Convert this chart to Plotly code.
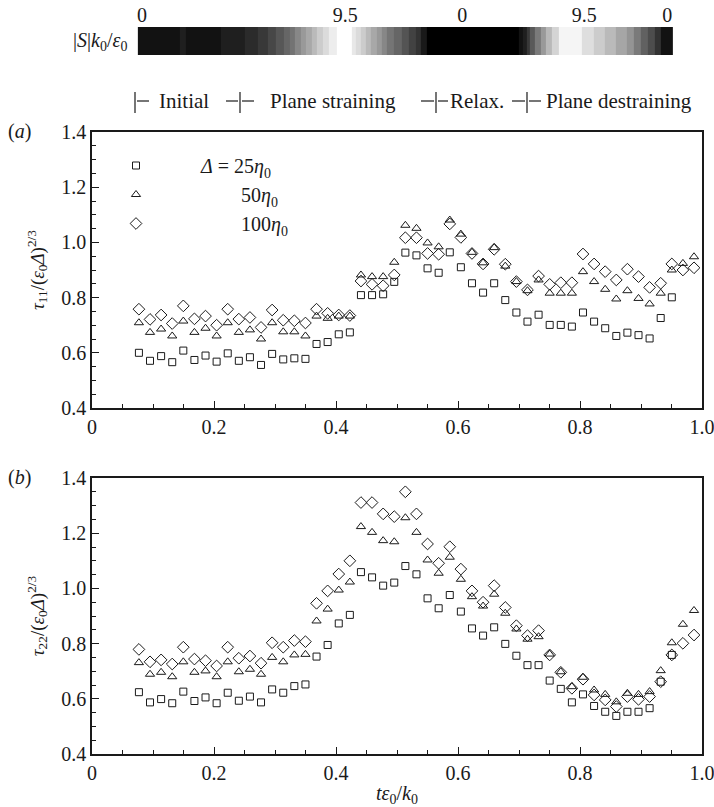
import plotly.graph_objects as go

# ---------------- data ----------------
# non-dimensional time  t*eps0/k0
t = [0.0769, 0.0951, 0.1133, 0.1315, 0.1497, 0.1679, 0.1861, 0.2043, 0.2225, 0.2407,
     0.2589, 0.2771, 0.2953, 0.3135, 0.3317, 0.3499, 0.3681, 0.3863, 0.4045, 0.4227,
     0.4409, 0.4591, 0.4773, 0.4955, 0.5137, 0.5319, 0.5501, 0.5683, 0.5865, 0.6047,
     0.6229, 0.6411, 0.6593, 0.6775, 0.6957, 0.7139, 0.7321, 0.7503, 0.7685, 0.7867,
     0.8049, 0.8231, 0.8413, 0.8595, 0.8777, 0.8959, 0.9141, 0.9323, 0.9505, 0.9687,
     0.9869]
t_25 = t[:49]  # the 25 eta_0 run stops earlier

# panel (a): tau_11 / (eps0 Delta)^(2/3)
tau11_25 = [0.600, 0.571, 0.588, 0.566, 0.608, 0.574, 0.590, 0.568, 0.598, 0.571,
            0.584, 0.556, 0.596, 0.576, 0.580, 0.578, 0.632, 0.639, 0.667, 0.674,
            0.809, 0.809, 0.812, 0.857, 0.963, 0.953, 0.906, 0.890, 0.964, 0.910,
            0.852, 0.818, 0.852, 0.791, 0.746, 0.713, 0.738, 0.701, 0.701, 0.695,
            0.746, 0.713, 0.689, 0.661, 0.673, 0.664, 0.652, 0.726, 0.801]
tau11_50 = [0.709, 0.674, 0.686, 0.661, 0.715, 0.674, 0.689, 0.661, 0.709, 0.674,
            0.683, 0.650, 0.709, 0.676, 0.676, 0.661, 0.733, 0.725, 0.733, 0.733,
            0.882, 0.876, 0.876, 0.928, 1.062, 1.051, 0.998, 0.984, 1.081, 1.030,
            0.964, 0.926, 0.981, 0.914, 0.858, 0.825, 0.864, 0.816, 0.816, 0.816,
            0.894, 0.858, 0.830, 0.795, 0.825, 0.797, 0.777, 0.816, 0.900, 0.924,
            0.948]
tau11_100 = [0.758, 0.721, 0.737, 0.706, 0.770, 0.723, 0.733, 0.700, 0.758, 0.722,
             0.728, 0.692, 0.755, 0.718, 0.716, 0.708, 0.758, 0.743, 0.737, 0.735,
             0.860, 0.848, 0.843, 0.882, 1.017, 1.017, 0.960, 0.957, 1.067, 1.018,
             0.960, 0.922, 0.975, 0.921, 0.858, 0.828, 0.878, 0.848, 0.854, 0.854,
             0.958, 0.922, 0.894, 0.864, 0.903, 0.876, 0.837, 0.852, 0.922, 0.900,
             0.908]

# panel (b): tau_22 / (eps0 Delta)^(2/3)
tau22_25 = [0.624, 0.587, 0.599, 0.584, 0.626, 0.592, 0.605, 0.584, 0.622, 0.593,
            0.608, 0.587, 0.634, 0.622, 0.646, 0.652, 0.753, 0.795, 0.873, 0.904,
            1.059, 1.040, 1.010, 1.021, 1.081, 1.051, 0.964, 0.928, 0.976, 0.916,
            0.855, 0.829, 0.859, 0.799, 0.756, 0.722, 0.722, 0.666, 0.636, 0.587,
            0.616, 0.574, 0.553, 0.538, 0.553, 0.553, 0.566, 0.662, 0.759]
tau22_50 = [0.731, 0.689, 0.696, 0.680, 0.734, 0.696, 0.701, 0.680, 0.734, 0.698,
            0.707, 0.689, 0.750, 0.734, 0.759, 0.761, 0.882, 0.925, 0.994, 1.023,
            1.224, 1.203, 1.173, 1.169, 1.256, 1.203, 1.103, 1.055, 1.113, 1.033,
            0.970, 0.936, 0.979, 0.910, 0.853, 0.816, 0.825, 0.762, 0.698, 0.644,
            0.678, 0.632, 0.616, 0.589, 0.620, 0.616, 0.626, 0.702, 0.803, 0.870,
            0.920]
tau22_100 = [0.779, 0.734, 0.741, 0.726, 0.787, 0.744, 0.738, 0.719, 0.787, 0.747,
             0.755, 0.729, 0.803, 0.787, 0.811, 0.807, 0.946, 0.991, 1.052, 1.100,
             1.311, 1.311, 1.270, 1.260, 1.350, 1.270, 1.161, 1.091, 1.151, 1.070,
             0.991, 0.950, 1.010, 0.931, 0.865, 0.829, 0.847, 0.759, 0.696, 0.638,
             0.671, 0.614, 0.596, 0.572, 0.608, 0.598, 0.608, 0.662, 0.759, 0.801,
             0.831]

# strain-rate magnitude |S| k0/eps0 shown as a grey strip (bin edges in time)
strain_t_edges = [0.0752, 0.1443, 0.1543, 0.2117, 0.2508, 0.2713, 0.2877, 0.3012, 0.3141,
                  0.3246, 0.3328, 0.3421, 0.3503, 0.3608, 0.3679, 0.3785, 0.3890, 0.4018,
                  0.4264, 0.4323, 0.4400, 0.4487, 0.4576, 0.4663, 0.4751, 0.4838, 0.4956,
                  0.5072, 0.5190, 0.5307, 0.5395, 0.5482, 0.7005, 0.7064, 0.7122, 0.7180,
                  0.7268, 0.7356, 0.7444, 0.7532, 0.7649, 0.8030, 0.8234, 0.8410, 0.8585,
                  0.8761, 0.8879, 0.8995, 0.9113, 0.9230, 0.9318, 0.9523]
strain_mag = [0.67, 1.14, 0.67, 1.14, 1.62, 2.09, 2.66, 3.23, 3.80, 4.28,
              5.04, 5.70, 6.27, 6.94, 7.60, 8.17, 8.84, 9.50, 8.65, 8.17,
              7.60, 6.94, 6.27, 5.70, 5.04, 4.37, 3.80, 3.14, 2.47, 1.90,
              0.95, 0.00, 0.67, 1.14, 2.09, 3.33, 4.56, 5.70, 6.84, 7.89,
              9.12, 8.27, 7.60, 6.94, 6.18, 5.51, 4.56, 3.61, 2.85, 1.90,
              0.67]
strain_tick_vals = [0.082, 0.415, 0.607, 0.807, 0.943]
strain_tick_text = ["0", "9.5", "0", "9.5", "0"]

x_ticks = [0, 0.2, 0.4, 0.6, 0.8, 1.0]
x_tick_text = ["0", "0.2", "0.4", "0.6", "0.8", "1.0"]
y_ticks = [0.4, 0.6, 0.8, 1.0, 1.2, 1.4]
y_tick_text = ["0.4", "0.6", "0.8", "1.0", "1.2", "1.4"]

phase_names = ["Initial", "Plane straining", "Relax.", "Plane destraining"]

# ---------------- figure ----------------
W, H = 714, 807
FONT = "Liberation Serif, Times New Roman, DejaVu Serif, serif"
INK = "#1a1a1a"


def px_x(p):
    return p / W


def px_y(p):
    return 1 - p / H


fig = go.Figure()

series = [
    ("square-open", 7, "\u00a0" * 9 + "<i>\u0394</i> = 25<i>\u03b7</i><sub>0</sub>", "25"),
    ("triangle-up-open", 8, "\u00a0" * 17 + "50<i>\u03b7</i><sub>0</sub>", "50"),
    ("diamond-open", 9, "\u00a0" * 17 + "100<i>\u03b7</i><sub>0</sub>", "100"),
]
panel_a = {"25": (t_25, tau11_25), "50": (t, tau11_50), "100": (t, tau11_100)}
panel_b = {"25": (t_25, tau22_25), "50": (t, tau22_50), "100": (t, tau22_100)}

for sym, size, name, key in series:
    xs, ys = panel_a[key]
    fig.add_trace(go.Scatter(
        x=xs, y=ys, mode="markers", name=name, legendgroup=key,
        marker=dict(symbol=sym, size=size, color=INK, line=dict(width=1, color=INK)),
        xaxis="x", yaxis="y"))
for sym, size, name, key in series:
    xs, ys = panel_b[key]
    fig.add_trace(go.Scatter(
        x=xs, y=ys, mode="markers", name=name, legendgroup=key, showlegend=False,
        marker=dict(symbol=sym, size=size, color=INK, line=dict(width=1, color=INK)),
        xaxis="x2", yaxis="y2"))

# grey strip of strain-rate magnitude
fig.add_trace(go.Heatmap(
    x=strain_t_edges, y=[0, 1], z=[strain_mag],
    colorscale=[[0, "#000000"], [1, "#ffffff"]], zmin=0, zmax=9.5,
    showscale=False, hoverinfo="skip", xaxis="x3", yaxis="y3"))

x_dom = [px_x(92), px_x(702)]
axis_common = dict(
    range=[0, 1], showline=True, linecolor=INK, linewidth=1.5, mirror=True,
    ticks="inside", ticklen=7, tickwidth=1.2, tickcolor=INK,
    showgrid=False, zeroline=False, automargin=False, ticklabeloverflow="allow",
    tickfont=dict(family=FONT, size=20, color=INK),
    minor=dict(ticks="inside", ticklen=4, tickwidth=1, tickcolor=INK,
               tickmode="linear", tick0=0, dtick=0.05, showgrid=False),
)
yaxis_common = dict(axis_common)
yaxis_common["range"] = [0.4, 1.4]
yaxis_common["minor"] = dict(ticks="inside", ticklen=4, tickwidth=1, tickcolor=INK,
                             tickmode="linear", tick0=0.4, dtick=0.05, showgrid=False)

y_title_a = "<i>\u03c4</i><sub>11</sub>/(<i>\u03b5</i><sub>0</sub><i>\u0394</i>)<sup>2/3</sup>"
y_title_b = "<i>\u03c4</i><sub>22</sub>/(<i>\u03b5</i><sub>0</sub><i>\u0394</i>)<sup>2/3</sup>"

fig.update_layout(
    template="none",
    width=W, height=H, margin=dict(l=0, r=0, t=0, b=0, autoexpand=False),
    paper_bgcolor="white", plot_bgcolor="white",
    font=dict(family=FONT, size=19, color=INK),
    showlegend=True,
    legend=dict(x=px_x(116), y=px_y(146), xanchor="left", yanchor="top",
                bgcolor="rgba(0,0,0,0)", font=dict(family=FONT, size=20, color=INK),
                itemwidth=30, tracegroupgap=0),
    xaxis=dict(axis_common, domain=x_dom, anchor="y",
               tickmode="array", tickvals=x_ticks, ticktext=x_tick_text),
    yaxis=dict(yaxis_common, domain=[px_y(408), px_y(132)], anchor="x",
               tickmode="array", tickvals=y_ticks, ticktext=y_tick_text,
               title=dict(text=y_title_a, font=dict(family=FONT, size=19, color=INK))),
    xaxis2=dict(axis_common, domain=x_dom, anchor="y2",
                tickmode="array", tickvals=x_ticks, ticktext=x_tick_text,
                title=dict(text="<i>t\u03b5</i><sub>0</sub>/<i>k</i><sub>0</sub>",
                           font=dict(family=FONT, size=20, color=INK))),
    yaxis2=dict(yaxis_common, domain=[px_y(754), px_y(478)], anchor="x2",
                tickmode="array", tickvals=y_ticks, ticktext=y_tick_text,
                title=dict(text=y_title_b, font=dict(family=FONT, size=19, color=INK))),
    xaxis3=dict(domain=x_dom, anchor="y3", range=[0, 1], side="top",
                showline=False, showgrid=False, zeroline=False, ticks="", automargin=False,
                ticklabeloverflow="allow",
                tickmode="array", tickvals=strain_tick_vals, ticktext=strain_tick_text,
                tickfont=dict(family=FONT, size=20, color=INK)),
    yaxis3=dict(domain=[px_y(55), px_y(27)], anchor="x3", range=[0, 1],
                visible=False, fixedrange=True, automargin=False),
)

# panel tags
for tag, ypix in (("(<i>a</i>)", 132), ("(<i>b</i>)", 478)):
    fig.add_annotation(x=px_x(6), y=px_y(ypix), xref="paper", yref="paper",
                       text=tag, showarrow=False, xanchor="left", yanchor="middle",
                       font=dict(family=FONT, size=20, color=INK))

# strip label
fig.add_annotation(x=px_x(129), y=px_y(42), xref="paper", yref="paper",
                   text="|<i>S</i>|<i>k</i><sub>0</sub>/<i>\u03b5</i><sub>0</sub>",
                   showarrow=False, xanchor="right", yanchor="middle",
                   font=dict(family=FONT, size=20, color=INK))

# phase bracket row: vertical bars with short dashes, and phase names
bar_px = [135, 240, 436, 527]
dash_px = [(137, 149), (226, 238), (242, 254), (421, 434), (438, 448), (512, 525), (529, 541)]
for bx in bar_px:
    fig.add_shape(type="line", xref="paper", yref="paper",
                  x0=px_x(bx), x1=px_x(bx), y0=px_y(92), y1=px_y(113),
                  line=dict(color=INK, width=1.2))
for d0, d1 in dash_px:
    fig.add_shape(type="line", xref="paper", yref="paper",
                  x0=px_x(d0), x1=px_x(d1), y0=px_y(101), y1=px_y(101),
                  line=dict(color=INK, width=1.2))
phase_centres = [184, 333, 477, 619]
for name, cx in zip(phase_names, phase_centres):
    fig.add_annotation(x=px_x(cx), y=px_y(101), xref="paper", yref="paper",
                       text=name, showarrow=False, xanchor="center", yanchor="middle",
                       font=dict(family=FONT, size=21, color=INK))

# page body without the default browser margin so the figure sits at the origin
fig.write_html("out.html",
               post_script="document.body.style.margin='0';document.body.style.overflow='hidden';")
